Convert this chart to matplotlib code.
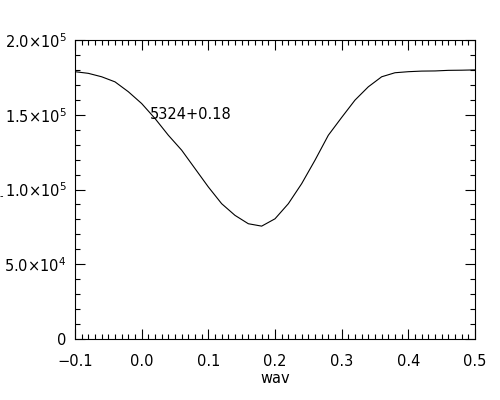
import numpy as np
import matplotlib
matplotlib.use("Agg")
import matplotlib.pyplot as plt
from matplotlib.ticker import MultipleLocator, FuncFormatter

plt.rcParams['font.family'] = ['DejaVu Sans']
plt.rcParams['mathtext.default'] = 'regular'

# line profile, sampled every 0.02 in wav
wav = np.round(np.arange(-0.10, 0.5001, 0.02), 2)
flux = [1.788e5, 1.777e5, 1.754e5, 1.720e5, 1.654e5, 1.575e5, 1.475e5, 1.363e5,
        1.263e5, 1.140e5, 1.017e5, 0.905e5, 0.827e5, 0.771e5, 0.755e5, 0.804e5,
        0.905e5, 1.039e5, 1.196e5, 1.363e5, 1.482e5, 1.598e5, 1.687e5, 1.754e5,
        1.781e5, 1.788e5, 1.792e5, 1.793e5, 1.797e5, 1.798e5, 1.800e5]
label = "5324+0.18"
FS = 10.5


def sci(v, pos):
    if v == 0:
        return "0"
    e = int(np.floor(np.log10(abs(v))))
    m = v / 10 ** e
    return "%.1f\u00d710$^{%d}$" % (m, e)


fig = plt.figure(figsize=(5, 4), dpi=100)
ax = fig.add_axes([0.15, 0.1525, 0.80, 0.7475])
ax.plot(wav, flux, color='black', lw=0.8)
ax.text(0.0125, 1.50e5, label, fontsize=FS, va='center', ha='left')

ax.set_xlim(-0.1, 0.5)
ax.set_ylim(0, 2.0e5)
ax.xaxis.set_major_locator(MultipleLocator(0.1))
ax.xaxis.set_minor_locator(MultipleLocator(0.01))
ax.yaxis.set_major_locator(MultipleLocator(5e4))
ax.yaxis.set_minor_locator(MultipleLocator(1e4))
ax.yaxis.set_major_formatter(FuncFormatter(sci))
ax.tick_params(which='both', direction='in', top=True, right=True,
               labelsize=FS, width=0.8)
ax.tick_params(which='major', length=7)
ax.tick_params(which='minor', length=3.5)
ax.tick_params(axis='x', which='major', pad=11)
ax.tick_params(axis='y', which='major', pad=6)
for s in ax.spines.values():
    s.set_linewidth(0.8)
ax.set_xlabel("wav", fontsize=FS, labelpad=1)
fig.text(0.0, 1 - 196 / 400, "-", fontsize=7, va='center')

fig.savefig("out.png", dpi=100)
